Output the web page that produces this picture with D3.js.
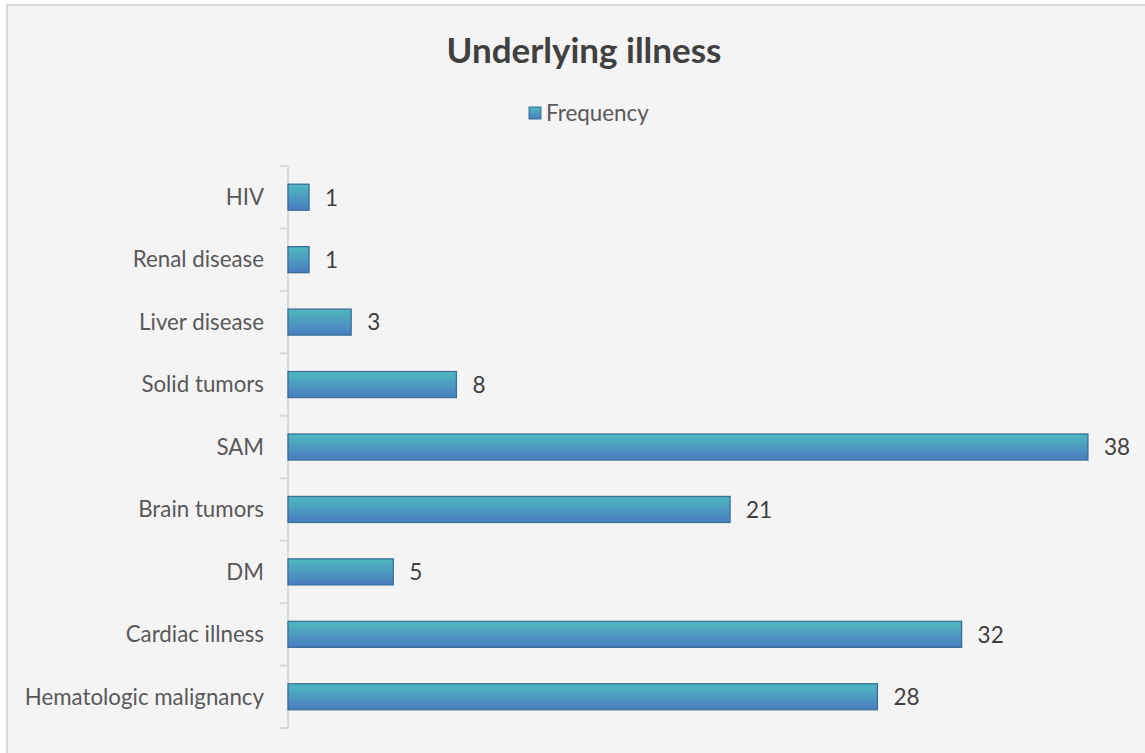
<!DOCTYPE html>
<html><head><meta charset="utf-8">
<script src="https://cdn.jsdelivr.net/npm/d3@7"></script>
<style>body{margin:0;background:#fff;}svg{display:block;}</style>
</head><body>
<svg id="c" width="1145" height="753"></svg>
<script>
const categories = ["HIV","Renal disease","Liver disease","Solid tumors","SAM","Brain tumors","DM","Cardiac illness","Hematologic malignancy"];
const values = [1,1,3,8,38,21,5,32,28];
const seriesName = "Frequency";
const chartTitle = "Underlying illness";

(function(){
const svg = d3.select("#c");
const font = "Lato, 'Open Sans', sans-serif";
svg.append("rect").attr("x",7).attr("y",5).attr("width",1160).attr("height",770)
  .attr("fill","#f4f4f4").attr("stroke","#d9d9d9").attr("stroke-width",2);

const defs = svg.append("defs");
const g = defs.append("linearGradient").attr("id","bg").attr("x1",0).attr("y1",0).attr("x2",0).attr("y2",1);
g.append("stop").attr("offset","0%").attr("stop-color","#4fb8c1");
g.append("stop").attr("offset","100%").attr("stop-color","#4a7dbf");

const pl = 288, pr = 1130, pt = 166, pb = 728;
const x = d3.scaleLinear().domain([0,40]).range([pl,pr]);
const y = d3.scaleBand().domain(categories).range([pt,pb]).paddingInner(1.4/2.4).paddingOuter(0.7/2.4);

svg.append("text").attr("x",584).attr("y",63).attr("text-anchor","middle")
  .attr("font-family",font).attr("font-weight","bold").attr("font-size",35).attr("fill","#404040").text(chartTitle);

svg.append("rect").attr("x",529).attr("y",107).attr("width",12).attr("height",12)
  .attr("fill","url(#bg)").attr("stroke","#3a6f98").attr("stroke-width",1);
svg.append("text").attr("x",546).attr("y",121).attr("font-family",font).attr("font-size",22.4).attr("fill","#595959").text(seriesName);

const ax = svg.append("g").attr("transform",`translate(${pl},0)`);
ax.append("line").attr("x1",0).attr("x2",0).attr("y1",pt).attr("y2",pb).attr("stroke","#d9d9d9").attr("stroke-width",2);
const step = (pb-pt)/categories.length;
d3.range(categories.length+1).forEach(i=>{
  ax.append("line").attr("x1",-8).attr("x2",0).attr("y1",pt+i*step).attr("y2",pt+i*step).attr("stroke","#d9d9d9").attr("stroke-width",2);
});
svg.selectAll(".cl").data(categories).join("text").attr("class","cl")
  .attr("x",pl-24).attr("y",d=>y(d)+y.bandwidth()/2).attr("dy","0.35em").attr("text-anchor","end")
  .attr("font-family",font).attr("font-size",22.3).attr("fill","#595959").text(d=>d);

svg.selectAll(".bar").data(categories).join("rect").attr("class","bar")
  .attr("x",x(0)).attr("y",d=>y(d)).attr("width",(d,i)=>x(values[i])-x(0)).attr("height",y.bandwidth())
  .attr("fill","url(#bg)").attr("stroke","#3a6f98").attr("stroke-width",1.3);

svg.selectAll(".vl").data(categories).join("text").attr("class","vl")
  .attr("x",(d,i)=>x(values[i])+16).attr("y",d=>y(d)+y.bandwidth()/2).attr("dy","0.37em")
  .attr("font-family",font).attr("font-size",22.5).attr("fill","#404040").text((d,i)=>values[i]);
})();
</script>
</body></html>
